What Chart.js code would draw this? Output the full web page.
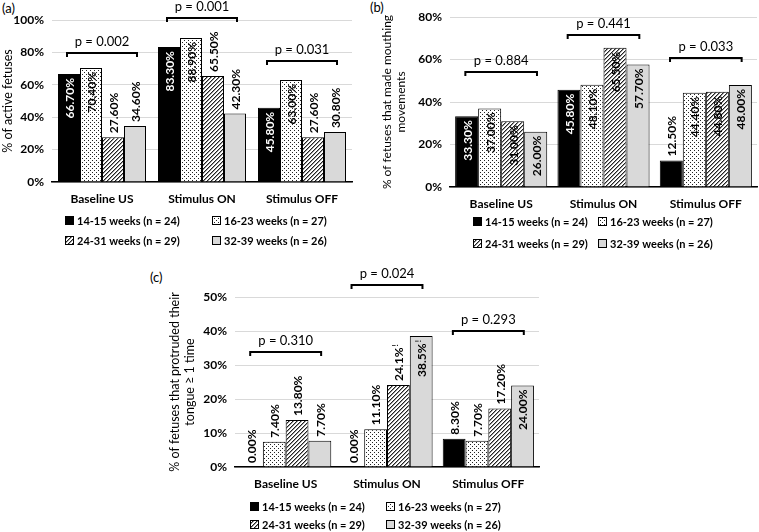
<!DOCTYPE html>
<html>
<head>
<meta charset="utf-8">
<script src="https://cdn.jsdelivr.net/npm/chart.js@4.4.0/dist/chart.umd.min.js"></script>
<style>
  body { margin: 0; background: #fff; width: 759px; height: 532px; position: relative; overflow: hidden; }
  canvas { position: absolute; }
  .tag { position: absolute; font: 13px Lato, sans-serif; color: #000; }
</style>
</head>
<body>
<div class="tag" style="left:2px;top:0px">(a)</div>
<div class="tag" style="left:370px;top:-1px">(b)</div>
<div class="tag" style="left:150px;top:269px">(c)</div>
<canvas id="chartA" width="380" height="262" style="left:0;top:0;width:380px;height:262px"></canvas>
<canvas id="chartB" width="379" height="262" style="left:380px;top:0;width:379px;height:262px"></canvas>
<canvas id="chartC" width="420" height="270" style="left:140px;top:262px;width:420px;height:270px"></canvas>
<script>
const categories = ["Baseline US", "Stimulus ON", "Stimulus OFF"];
const groups = ["14-15 weeks (n = 24)", "16-23 weeks (n = 27)", "24-31 weeks (n = 29)", "32-39 weeks (n = 26)"];

// (a) % of active fetuses
const activeW14 = [66.7, 83.3, 45.8];
const activeW16 = [70.4, 88.9, 63.0];
const activeW24 = [27.6, 65.5, 27.6];
const activeW32 = [34.6, 42.3, 30.8];
const activeP = ["p = 0.002", "p = 0.001", "p = 0.031"];

// (b) % of fetuses that made mouthing movements
const mouthW14 = [33.3, 45.8, 12.5];
const mouthW16 = [37.0, 48.1, 44.4];
const mouthW24 = [31.0, 65.5, 44.8];
const mouthW32 = [26.0, 57.7, 48.0];
const mouthP = ["p = 0.884", "p = 0.441", "p = 0.033"];

// (c) % of fetuses that protruded their tongue >= 1 time
const tongueW14 = [0.0, 0.0, 8.3];
const tongueW16 = [7.4, 11.1, 7.7];
const tongueW24 = [13.8, 24.1, 17.2];
const tongueW32 = [7.7, 38.5, 24.0];
const tongueP = ["p = 0.310", "p = 0.024", "p = 0.293"];
const tongueNote = [[0, 0, 0], [0, 0, 0], [0, 1, 0], [0, 1, 0]]; // values marked with "!"

const FONT = "Lato, 'Open Sans', sans-serif";
Chart.defaults.font.family = FONT;
Chart.defaults.color = "#000";

// fills: solid black, dots, diagonal hatch, light grey
function dotPattern() {
  const c = document.createElement("canvas");
  c.width = 4; c.height = 4;
  const g = c.getContext("2d");
  g.fillStyle = "#fff"; g.fillRect(0, 0, 4, 4);
  g.fillStyle = "#222";
  g.fillRect(0, 0, 1, 1);
  g.fillRect(2, 2, 1, 1);
  return g.createPattern(c, "repeat");
}
function hatchPattern() {
  const c = document.createElement("canvas");
  c.width = 4; c.height = 4;
  const g = c.getContext("2d");
  g.fillStyle = "#fff"; g.fillRect(0, 0, 4, 4);
  g.fillStyle = "#222";
  for (let i = 0; i < 4; i++) g.fillRect(i, 3 - i, 1, 1);
  g.fillStyle = "#999";
  for (let i = 0; i < 4; i++) g.fillRect(i, (4 - i) % 4, 1, 1);
  return g.createPattern(c, "repeat");
}
const fills = ["#000", dotPattern(), hatchPattern(), "#d9d9d9"];

// value labels, rotated
const valueLabels = {
  id: "valueLabels",
  afterDatasetsDraw(chart, args, opts) {
    const ctx = chart.ctx;
    ctx.save();
    chart.data.datasets.forEach((ds, i) => {
      chart.getDatasetMeta(i).data.forEach((bar, j) => {
        const v = ds.data[j];
        const note = opts.notes && opts.notes[i][j];
        const txt = note ? v.toFixed(1) + "%" : v.toFixed(2) + "%";
        ctx.font = "bold 12px " + FONT;
        const w = ctx.measureText(txt).width;
        ctx.font = "bold 8px " + FONT;
        const nw = note ? ctx.measureText("!").width + 1 : 0;
        const inside = opts.inside[i][j];
        const start = inside ? bar.y + 4 + w + nw : bar.y - 4;
        ctx.save();
        ctx.translate(bar.x, start);
        ctx.rotate(-Math.PI / 2);
        ctx.textAlign = "left";
        ctx.textBaseline = "middle";
        ctx.fillStyle = inside && i === 0 ? "#fff" : "#000";
        ctx.font = "bold 12px " + FONT;
        ctx.fillText(txt, 0, 1);
        if (note) {
          ctx.font = "bold 8px " + FONT;
          ctx.fillText("!", w + 1, -3);
        }
        ctx.restore();
      });
    });
    ctx.restore();
  }
};

// p-value brackets over each category
const brackets = {
  id: "brackets",
  afterDatasetsDraw(chart, args, opts) {
    const ctx = chart.ctx, x = chart.scales.x, y = chart.scales.y;
    const half = (x.getPixelForValue(1) - x.getPixelForValue(0)) * 0.35;
    ctx.save();
    ctx.strokeStyle = "#000";
    ctx.lineWidth = 2;
    ctx.fillStyle = "#000";
    ctx.font = "13px " + FONT;
    ctx.textAlign = "center";
    ctx.textBaseline = "middle";
    opts.texts.forEach((t, k) => {
      const cx = x.getPixelForValue(k);
      const by = Math.round(y.getPixelForValue(opts.levels[k]));
      ctx.beginPath();
      ctx.moveTo(cx - half, by + 4);
      ctx.lineTo(cx - half, by);
      ctx.lineTo(cx + half, by);
      ctx.lineTo(cx + half, by + 4);
      ctx.stroke();
      ctx.fillText(t, cx, by - 11);
    });
    ctx.restore();
  }
};

// two-column legend under the axis
const gridLegend = {
  id: "gridLegend",
  afterDraw(chart, args, opts) {
    const ctx = chart.ctx;
    ctx.save();
    ctx.font = "bold 11px " + FONT;
    ctx.textBaseline = "middle";
    ctx.textAlign = "left";
    chart.data.datasets.forEach((ds, i) => {
      const lx = opts.cols[i % 2], ly = opts.rows[Math.floor(i / 2)];
      ctx.fillStyle = ds.backgroundColor;
      ctx.fillRect(lx, ly - 5, 9, 9);
      ctx.strokeStyle = "#000";
      ctx.lineWidth = 1;
      ctx.strokeRect(lx + 0.5, ly - 4.5, 8, 8);
      ctx.fillStyle = "#000";
      ctx.fillText(ds.label, lx + 12, ly);
    });
    ctx.restore();
  }
};

function makeChart(id, p) {
  return new Chart(document.getElementById(id), {
    type: "bar",
    data: {
      labels: categories,
      datasets: p.series.map((d, i) => ({
        label: groups[i],
        data: d,
        backgroundColor: fills[i],
        borderColor: "#000",
        borderWidth: 1,
        categoryPercentage: p.catPct,
        barPercentage: 1
      }))
    },
    options: {
      responsive: false,
      animation: false,
      layout: { padding: p.pad },
      plugins: {
        legend: { display: false },
        tooltip: { enabled: false },
        valueLabels: { inside: p.inside, notes: p.notes },
        brackets: { texts: p.pTexts, levels: p.levels },
        gridLegend: { cols: p.legCols, rows: p.legRows }
      },
      scales: {
        x: {
          grid: { display: false, drawTicks: false },
          border: { color: "#000", width: 1.5 },
          ticks: { color: "#000", padding: 10, font: { size: 12, weight: "bold" } },
          afterFit: (s) => { s.height = 28; }
        },
        y: {
          min: 0,
          max: p.max,
          ticks: { stepSize: p.step, padding: 8, color: "#000", font: { size: 12, weight: "bold" }, callback: (v) => v + "%" },
          grid: { color: "#d9d9d9", drawTicks: false },
          border: { display: false },
          title: { display: true, text: p.title, color: "#000", font: { size: p.titleSize }, padding: { top: 0, bottom: 0 } },
          afterFit: (s) => { s.width = p.yWidth; }
        }
      }
    },
    plugins: [valueLabels, brackets, gridLegend]
  });
}

makeChart("chartA", {
  series: [activeW14, activeW16, activeW24, activeW32],
  pTexts: activeP,
  levels: [79.4, 101, 74.5],
  max: 100, step: 20,
  title: "% of active fetuses",
  titleSize: 12.5,
  yWidth: 52,
  pad: { left: 0, right: 28, top: 20, bottom: 52 },
  catPct: 0.88,
  inside: [[1, 1, 1], [1, 1, 1], [0, 0, 0], [0, 0, 0]],
  legCols: [65, 212], legRows: [221, 241]
});

makeChart("chartB", {
  series: [mouthW14, mouthW16, mouthW24, mouthW32],
  pTexts: mouthP,
  levels: [54, 71.5, 60.7],
  max: 80, step: 20,
  title: ["% of fetuses that made mouthing", "movements"],
  titleSize: 12,
  yWidth: 70,
  pad: { left: 0, right: 2, top: 17, bottom: 47 },
  catPct: 0.9,
  inside: [[1, 1, 0], [1, 1, 1], [1, 1, 1], [1, 1, 1]],
  legCols: [93, 218], legRows: [222, 244]
});

makeChart("chartC", {
  series: [tongueW14, tongueW16, tongueW24, tongueW32],
  pTexts: tongueP,
  levels: [33.8, 53.5, 40],
  max: 50, step: 10,
  title: ["% of fetuses that protruded their", "tongue \u2265 1 time"],
  titleSize: 12.5,
  yWidth: 68,
  pad: { left: 27, right: 21, top: 35, bottom: 37 },
  catPct: 0.9,
  inside: [[0, 0, 0], [0, 0, 0], [0, 0, 0], [0, 1, 1]],
  notes: tongueNote,
  legCols: [110, 246], legRows: [245, 263]
});
</script>
</body>
</html>
